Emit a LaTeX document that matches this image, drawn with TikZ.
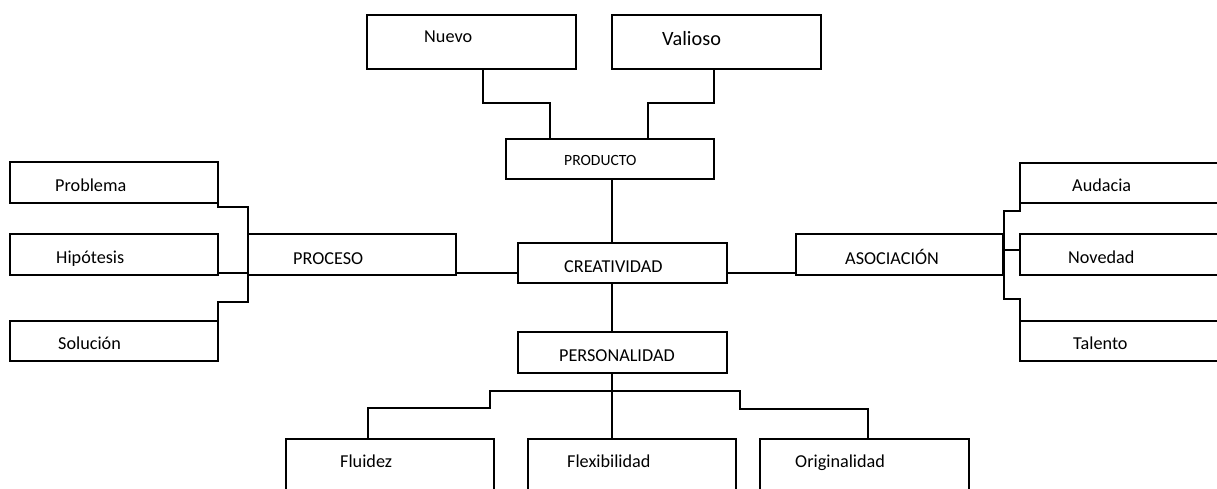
\documentclass[tikz,border=0pt]{standalone}
\usepackage{fontspec}
\setmainfont{Carlito}
\begin{document}
\begin{tikzpicture}[x=1pt,y=-1pt,
  box/.style={draw, line width=1.9pt, rectangle, inner sep=0pt, outer sep=0pt, anchor=north west},
  lab/.style={anchor=base west, inner sep=0pt, font=\fontsize{18.2}{20}\selectfont},
  conn/.style={line width=1.9pt}]
\useasboundingbox (0,0) rectangle (1217,489);
\clip (0,0) rectangle (1217,489);
% boxes
\node[box, minimum width=209, minimum height=54] (nuevo) at (367,15) {};
\node[box, minimum width=209, minimum height=54] (val) at (612,15) {};
\node[box, minimum width=208, minimum height=40] (prod) at (506,139) {};
\node[box, minimum width=209, minimum height=40] (crea) at (518,243) {};
\node[box, minimum width=209, minimum height=41] (pers) at (518,332) {};
\node[box, minimum width=208, minimum height=41] (proc) at (248,234) {};
\node[box, minimum width=207, minimum height=41] (aso) at (796,234) {};
\node[box, minimum width=208, minimum height=41] (prob) at (10,162) {};
\node[box, minimum width=208, minimum height=41] (hip) at (10,234) {};
\node[box, minimum width=208, minimum height=40] (sol) at (10,321) {};
\node[box, minimum width=220, minimum height=40] (aud) at (1020,163) {};
\node[box, minimum width=220, minimum height=41] (nov) at (1020,234) {};
\node[box, minimum width=220, minimum height=40] (tal) at (1020,321) {};
\node[box, minimum width=208, minimum height=70] (flu) at (286,439) {};
\node[box, minimum width=208, minimum height=70] (flex) at (528,439) {};
\node[box, minimum width=209, minimum height=70] (ori) at (760,439) {};
% labels
\node[lab] (tnuevo) at (424,43) {Nuevo};
\node[lab, font=\fontsize{20.3}{22}\selectfont] (tval) at (662,46) {Valioso};
\node[lab, font=\fontsize{15.6}{18}\selectfont] (tprod) at (564,166) {PRODUCTO};
\node[lab] (tcrea) at (564,272) {CREATIVIDAD};
\node[lab] (tpers) at (559,361) {PERSONALIDAD};
\node[lab] (tproc) at (293,264) {PROCESO};
\node[lab] (taso) at (845,264) {ASOCIACIÓN};
\node[lab] (tprob) at (55,191) {Problema};
\node[lab] (thip) at (56,263) {Hipótesis};
\node[lab] (tsol) at (58,349) {Solución};
\node[lab] (taud) at (1072,191) {Audacia};
\node[lab] (tnov) at (1068,263) {Novedad};
\node[lab] (ttal) at (1073,349) {Talento};
\node[lab] (tflu) at (340,467) {Fluidez};
\node[lab] (tflex) at (567,467) {Flexibilidad};
\node[lab] (tori) at (795,467) {Originalidad};
% connectors top
\draw[conn] ([xshift=11.5]nuevo.south) -- ++(0,34) -| ([xshift=-60]prod.north);
\draw[conn] ([xshift=-2.5]val.south) -- ++(0,34) -| ([xshift=38]prod.north);
\draw[conn] ([xshift=2]prod.south) -- ([xshift=-10.5]crea.north);
\draw[conn] ([xshift=-10.5]crea.south) -- ([xshift=-10.5]pers.north);
% left
\coordinate (ls) at (248,302);
\draw[conn] (prob.south east) -- ++(0,4) -| (ls) -| (sol.north east);
\draw[conn] ([yshift=-18.5]hip.east) -- ++(30,0);
\draw[conn] ([yshift=-18.5]proc.east) -- ([yshift=-10]crea.west);
% right
\draw[conn] ([yshift=-10]crea.east) -- ([yshift=-18.5]aso.west);
\coordinate (rs) at (1004,299);
\draw[conn] (aud.south west) -- ++(0,8) -| (rs) -| (tal.north west);
\draw[conn] ([yshift=4.5]nov.west) -- ++(-16,0);
% bottom
\coordinate (bl) at (490,391);
\coordinate (br) at (740,391);
\draw[conn] ([xshift=-10.5]pers.south) -- ([xshift=-20]flex.north);
\draw[conn] ([xshift=-22]flu.north) -- ++(0,-31) -| (bl) -- (br) -- ++(0,18) -| ([xshift=3.5]ori.north);
\end{tikzpicture}
\end{document}
